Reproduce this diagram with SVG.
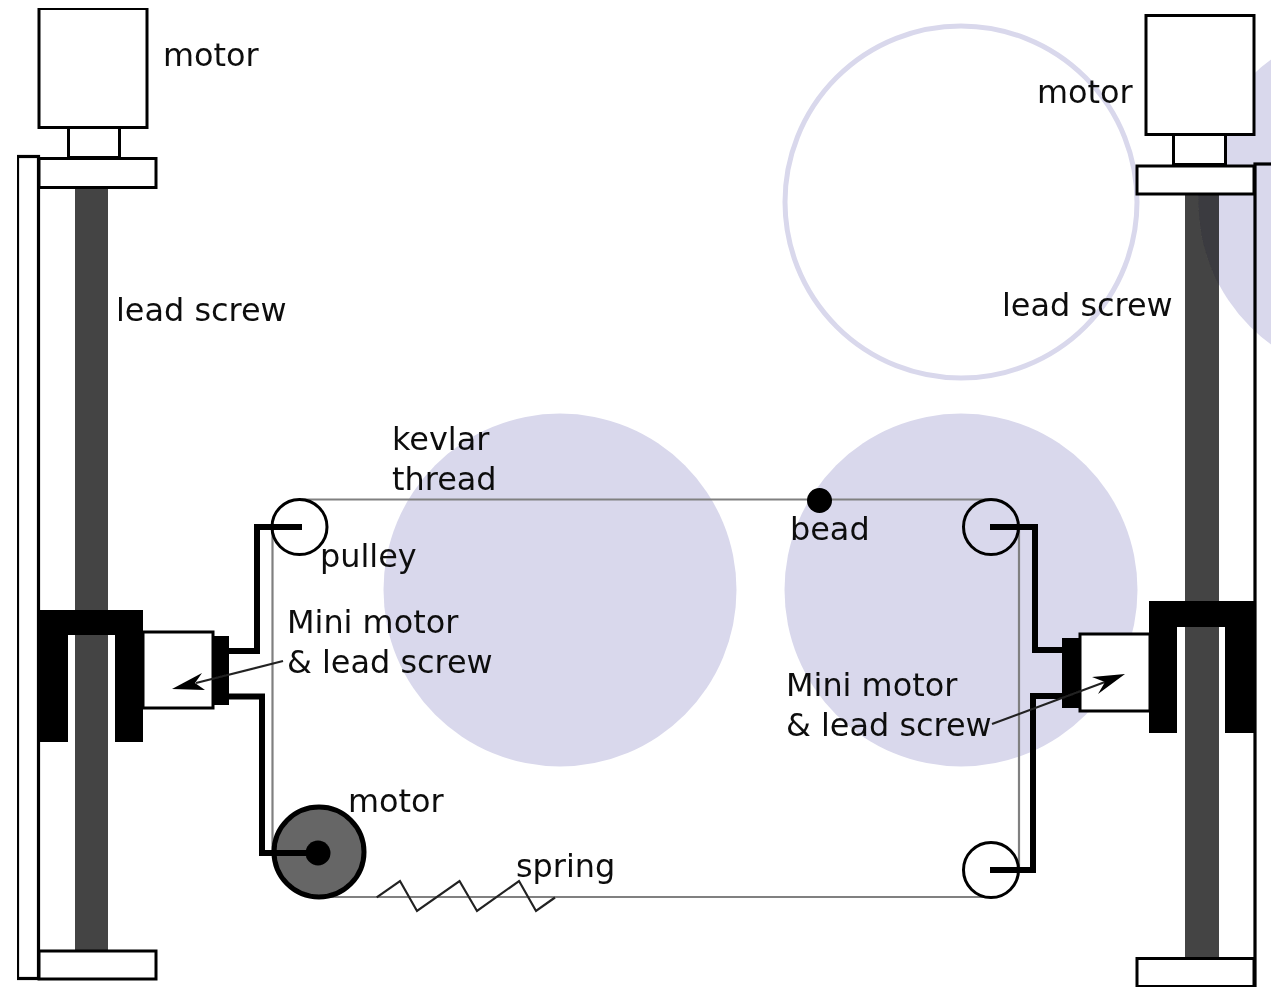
<svg xmlns="http://www.w3.org/2000/svg" width="1271" height="987" viewBox="0 0 1271 987">
<style>
.lav{fill:#d9d8ec}
.box{fill:#fff;stroke:#000;stroke-width:3}
.frame{fill:none;stroke:#000;stroke-width:3.200}
.screw{fill:#000;fill-opacity:.733}
.blk{fill:#000}
.wire{fill:none;stroke:#000;stroke-width:6;stroke-linecap:butt}
.thread{fill:none;stroke:#808080;stroke-width:2.200}
.pulley{fill:none;stroke:#000;stroke-width:3}
.lead{fill:none;stroke:#222;stroke-width:2.200}
.head{fill:#000}
text{font-family:"DejaVu Sans",sans-serif;font-size:31.900px;fill:#111}
</style>
<defs>
<filter id="soft" x="0" y="0" width="100%" height="100%"><feGaussianBlur stdDeviation="0.5"/></filter>
</defs>
<rect width="1271" height="987" fill="#fff"/>
<g filter="url(#soft)">
<g id="backdrop">
<circle class="lav" cx="560" cy="590" r="176.500"/>
<circle class="lav" cx="961" cy="590" r="176.500"/>
<circle class="lav" cx="1375" cy="202" r="176.500"/>
<circle cx="961" cy="202" r="176" fill="none" stroke="#d9d8ec" stroke-width="5"/>
</g>
<g id="connectors-under">
<path class="thread" d="M299 499.500H991M272.500 527V853M1019 527V870M318 897H991"/>
<path class="lead" d="M376.700 897.300L400 881L417 911L459.500 881L477 911L519 881L536 911L555 897.500"/>
<path class="wire" d="M229 651H257V527H302"/>
<path class="wire" d="M229 696.500H262V853H318"/>
<path class="wire" d="M1062 650H1035V527H990"/>
<path class="wire" d="M1062 696H1033V870H990"/>
</g>
<g id="left-rail">
<rect class="frame" x="17.500" y="156.500" width="21" height="822"/>
<rect class="screw" x="75" y="187" width="33" height="764"/>
</g>
<g id="left-motor">
<rect class="box" x="39" y="8.500" width="108" height="119"/>
<rect class="box" x="68.500" y="127.500" width="51" height="30"/>
<rect class="box" x="39" y="158.500" width="117" height="29"/>
</g>
<g id="left-bottom-plate"><rect class="box" x="39" y="951" width="117" height="28"/></g>
<g id="left-carriage">
<path class="blk" d="M39 610H143V742H115V635H68V742H39Z"/>
<rect class="box" x="143" y="632" width="70" height="76"/>
<rect class="blk" x="212" y="636" width="17" height="69"/>
</g>
<g id="right-rail">
<rect class="frame" x="1255" y="164" width="30" height="830"/>
<rect class="screw" x="1185" y="194" width="34" height="764"/>
</g>
<g id="right-motor">
<rect class="box" x="1146" y="15.500" width="108" height="119"/>
<rect class="box" x="1173.500" y="134.500" width="52" height="30"/>
<rect class="box" x="1137" y="166" width="117" height="28"/>
</g>
<g id="right-bottom-plate"><rect class="box" x="1137" y="958.500" width="117" height="28"/></g>
<g id="right-carriage">
<rect class="box" x="1080" y="634" width="70" height="77"/>
<path class="blk" d="M1149 601H1254V733H1225V627H1177V733H1149Z"/>
<rect class="blk" x="1062" y="638" width="18" height="70"/>
</g>
<g id="pulley-top-left"><circle class="pulley" cx="299.500" cy="527" r="27.500"/></g>
<g id="pulley-top-right"><circle class="pulley" cx="991" cy="527" r="27.500"/></g>
<g id="pulley-bottom-right"><circle class="pulley" cx="991" cy="870" r="27.500"/></g>
<g id="bottom-motor">
<circle cx="319" cy="852" r="45" fill="#666" stroke="#000" stroke-width="5"/>
<path class="wire" d="M272 853H318"/>
<circle class="blk" cx="318" cy="853" r="12.500"/>
</g>
<g id="bead"><circle class="blk" cx="819.500" cy="500.500" r="12.500"/></g>
<g id="connectors-over">
<path class="lead" d="M283 661L196 683"/>
<path class="head" d="M172 689L202 673L195 683L205 690Z"/>
<path class="lead" d="M992 724L1105 682"/>
<path class="head" d="M1125 674L1092 677L1105 682L1098 694Z"/>
</g>
<g id="labels">
<text x="163" y="66">motor</text>
<text x="116" y="321">lead screw</text>
<text x="392" y="450">kevlar</text>
<text x="392" y="490">thread</text>
<text x="320" y="567">pulley</text>
<text x="287" y="633">Mini motor</text>
<text x="287" y="673">&amp; lead screw</text>
<text x="348" y="812">motor</text>
<text x="516" y="877">spring</text>
<text x="790" y="540">bead</text>
<text x="786" y="696">Mini motor</text>
<text x="786" y="736">&amp; lead screw</text>
<text x="1037" y="103">motor</text>
<text x="1002" y="316">lead screw</text>
</g>
</g>
</svg>
